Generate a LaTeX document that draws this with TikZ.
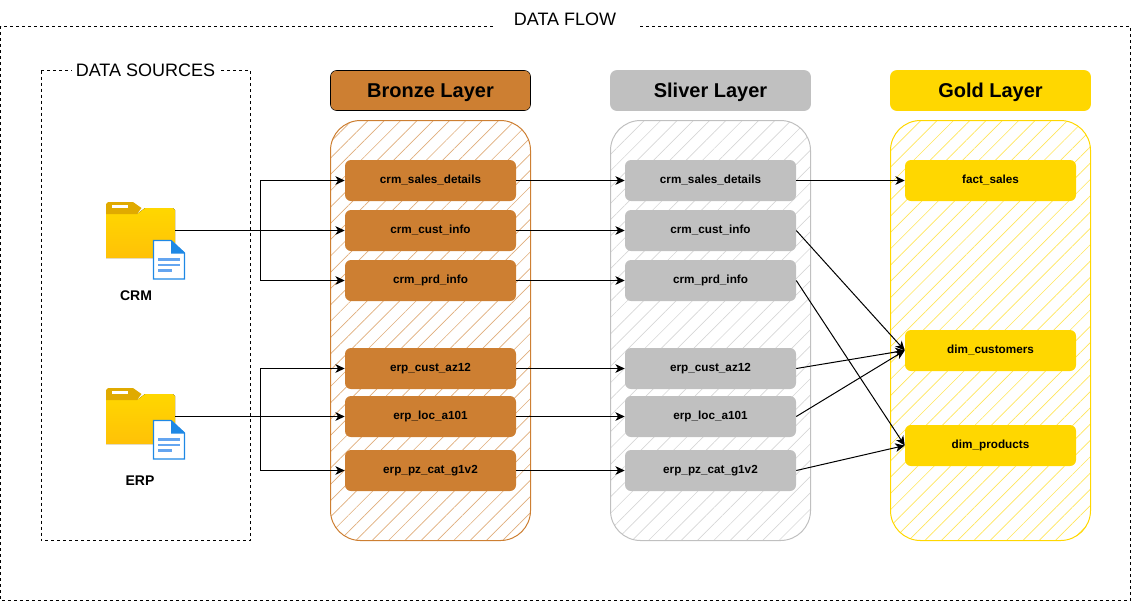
\documentclass[tikz,border=0pt]{standalone}
\usepackage{fontspec}
\setmainfont{Liberation Sans}
\usetikzlibrary{arrows.meta}
\usetikzlibrary{patterns.meta}
\definecolor{bronzec}{RGB}{205,127,50}
\definecolor{silverc}{RGB}{192,192,192}
\definecolor{goldc}{RGB}{255,215,0}
\definecolor{folderlow}{RGB}{255,193,7}
\definecolor{folderdark}{RGB}{224,170,0}
\definecolor{docblue}{RGB}{30,136,229}
\definecolor{docline}{RGB}{100,165,240}
\tikzset{
  frame/.style={draw=black,line width=0.75pt,dash pattern=on 2.25pt off 2.25pt},
  frametitle/.style={fill=white,inner sep=0pt,minimum height=15pt,font=\fontsize{13.5}{16}\selectfont},
  layer/.style={rounded corners=4.5pt,minimum width=150pt,minimum height=30pt,inner sep=0pt,text height=13pt,text depth=2.2pt,font=\fontsize{15}{18}\selectfont\bfseries},
  hatchbox/.style 2 args={draw=#1,line width=0.75pt,rounded corners=22.5pt,minimum width=150pt,minimum height=315pt,inner sep=0pt,
    pattern={Lines[angle=45,distance=8.65pt,line width=0.5pt,xshift=#2]},pattern color=#1!65!white},
  tablebox/.style={fill=#1,rounded corners=4.5pt,minimum width=128.25pt,minimum height=30.75pt,inner sep=0pt,text height=7.2pt,text depth=2pt,font=\fontsize{8.8}{10}\selectfont\bfseries},
  sourcelabel/.style={font=\fontsize{10.5}{12}\selectfont\bfseries,inner sep=0pt},
  link/.style={draw=black,line width=0.75pt,-{Stealth[length=7pt,width=6.5pt,inset=2pt]}},
  pics/folderdoc/.style={code={
    \begin{scope}[yscale=-1]
    \fill[top color=goldc,bottom color=folderlow] (0,12) -- (31,12) -- (39,6) -- (67,6) -- (69,8) -- (69,56) -- (0,56) -- cycle;
    \fill[folderdark] (2,0) -- (27,0) -- (35.5,6) -- (31,12) -- (0,12) -- (0,2) -- cycle;
    \fill[white] (6,3) rectangle (22,6);
    \begin{scope}[shift={(0,#1)}]
    \draw[docblue,line width=1pt,fill=white] (47.5,0.5) -- (65,0.5) -- (78.5,13) -- (78.5,39) -- (47.5,39) -- cycle;
    \fill[docblue] (65,0) -- (79,13.5) -- (65,13.5) -- cycle;
    \draw[docline,line width=2pt] (52,19.5) -- (74,19.5) (52,25) -- (74,25) (52,30.5) -- (66,30.5);
    \end{scope}
    \end{scope}
  }}
}

\begin{document}
\begin{tikzpicture}[x=0.75pt,y=0.75pt,yscale=-1,xscale=1]
\useasboundingbox (0,0) rectangle (1131,601);

% outer frames
\draw[frame] (0.5,26) rectangle (1130,600.5);
\node[frametitle,minimum width=108pt] (flowtitle) at (565,19) {DATA FLOW};
\draw[frame] (41,70.5) rectangle (250.5,540.5);
\node[frametitle,minimum width=111pt] (sourcetitle) at (145.5,70) {DATA SOURCES};

% layer headers
\node[layer,draw=black,fill=bronzec] (bronzehead) at (430.5,90.5) {Bronze Layer};
\node[layer,draw=silverc,fill=silverc] (silverhead) at (710.5,90.5) {Sliver Layer};
\node[layer,draw=goldc,fill=goldc] (goldhead) at (990.5,90.5) {Gold Layer};

% hatched containers
\node[hatchbox={bronzec}{1.35pt}] (bronzepane) at (430.5,330.5) {};
\node[hatchbox={silverc}{0.6pt}] (silverpane) at (710.5,330.5) {};
\node[hatchbox={goldc}{0pt}] (goldpane) at (990.5,330.5) {};

% bronze tables
\node[tablebox=bronzec] (bsales) at (430.5,180.5) {crm\_sales\_details};
\node[tablebox=bronzec] (bcust) at (430.5,230.5) {crm\_cust\_info};
\node[tablebox=bronzec] (bprd) at (430.5,280.5) {crm\_prd\_info};
\node[tablebox=bronzec] (baz) at (430.5,368.5) {erp\_cust\_az12};
\node[tablebox=bronzec] (bloc) at (430.5,416.5) {erp\_loc\_a101};
\node[tablebox=bronzec] (bcat) at (430.5,470.5) {erp\_pz\_cat\_g1v2};

% silver tables
\node[tablebox=silverc] (ssales) at (710.5,180.5) {crm\_sales\_details};
\node[tablebox=silverc] (scust) at (710.5,230.5) {crm\_cust\_info};
\node[tablebox=silverc] (sprd) at (710.5,280.5) {crm\_prd\_info};
\node[tablebox=silverc] (saz) at (710.5,368.5) {erp\_cust\_az12};
\node[tablebox=silverc] (sloc) at (710.5,416.5) {erp\_loc\_a101};
\node[tablebox=silverc] (scat) at (710.5,470.5) {erp\_pz\_cat\_g1v2};

% gold tables
\node[tablebox=goldc] (gsales) at (990.5,180.5) {fact\_sales};
\node[tablebox=goldc] (gcust) at (990.5,350.5) {dim\_customers};
\node[tablebox=goldc] (gprd) at (990.5,445.5) {dim\_products};

% sources
\pic at (106,202) {folderdoc=38};
\pic at (106,388) {folderdoc=32};
\node[sourcelabel] (crmlabel) at (136,296) {CRM};
\node[sourcelabel] (erplabel) at (140,481) {ERP};
\coordinate (crmsrc) at (175,230.5);
\coordinate (erpsrc) at (175,416.5);
\coordinate (crmjoin) at (260,230.5);
\coordinate (erpjoin) at (260,416.5);

% source to bronze
\draw[link] (crmsrc) -- (bcust);
\draw[link] (crmjoin) |- (bsales);
\draw[link] (crmjoin) |- (bprd);
\draw[link] (erpsrc) -- (bloc);
\draw[link] (erpjoin) |- (baz);
\draw[link] (erpjoin) |- (bcat);

% bronze to silver
\draw[link] (bsales) -- (ssales);
\draw[link] (bcust) -- (scust);
\draw[link] (bprd) -- (sprd);
\draw[link] (baz) -- (saz);
\draw[link] (bloc) -- (sloc);
\draw[link] (bcat) -- (scat);

% silver to gold
\draw[link] (ssales) -- (gsales);
\draw[link] (scust.east) -- (gcust.west);
\draw[link] (sprd.east) -- (gprd.west);
\draw[link] (saz.east) -- (gcust.west);
\draw[link] (sloc.east) -- (gcust.west);
\draw[link] (scat.east) -- (gprd.west);

\end{tikzpicture}
\end{document}
